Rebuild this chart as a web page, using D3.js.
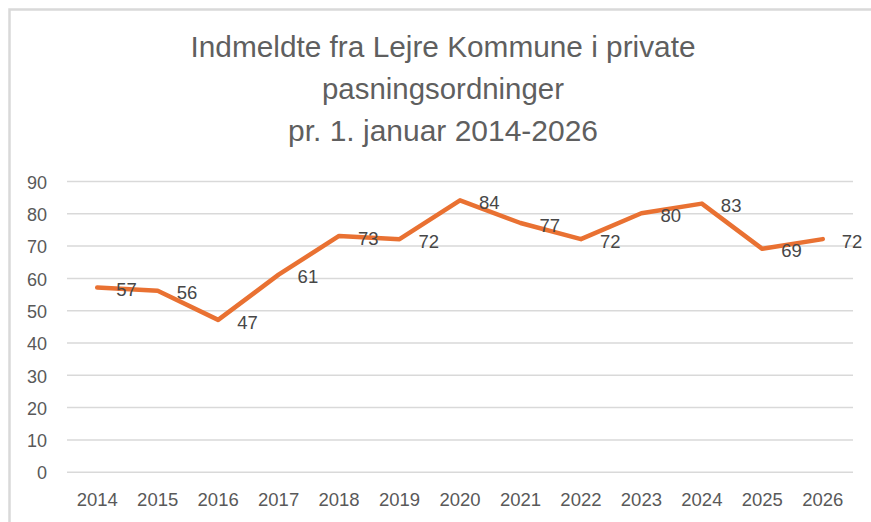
<!DOCTYPE html>
<html>
<head>
<meta charset="utf-8">
<script src="https://cdn.jsdelivr.net/npm/d3@7"></script>
<style>
  html, body { margin: 0; padding: 0; background: #fff; }
  svg { display: block; }
</style>
</head>
<body>
<svg id="chart" width="871" height="522"></svg>
<script>
const titleLines = ["Indmeldte fra Lejre Kommune i private", "pasningsordninger", "pr. 1. januar 2014-2026"];
const years = ["2014","2015","2016","2017","2018","2019","2020","2021","2022","2023","2024","2025","2026"];
const values = [57, 56, 47, 61, 73, 72, 84, 77, 72, 80, 83, 69, 72];
const yTicks = [0, 10, 20, 30, 40, 50, 60, 70, 80, 90];

const svg = d3.select("#chart");
const W = 871, H = 522;
const plot = { left: 67, right: 853, top: 181, bottom: 471.7 };

svg.append("rect").attr("width", W).attr("height", H).attr("fill", "#fff");

// outer border (only top and left visible)
svg.append("path")
  .attr("d", `M9.5,${H} L9.5,9.5 L${W},9.5`)
  .attr("fill", "none").attr("stroke", "#d9d9d9").attr("stroke-width", 2.5);

// title
const title = svg.append("g");
const titleBase = [57, 99, 141];
const titleLen = [505, 242, 310];
titleLines.forEach((t, i) => {
  title.append("text")
    .attr("x", 443).attr("y", titleBase[i])
    .attr("text-anchor", "middle")
    .attr("font-family", "'Liberation Sans Narrow', 'Liberation Sans', Arial, sans-serif")
    .attr("font-size", 29)
    .attr("fill", "#5f5f5f")
    .attr("textLength", titleLen[i])
    .attr("lengthAdjust", "spacingAndGlyphs")
    .text(t);
});

const x = d3.scaleBand().domain(years).range([plot.left, plot.right]);
const y = d3.scaleLinear().domain([0, 90]).range([plot.bottom, plot.top]);

// gridlines + y labels
const yAxis = d3.axisLeft(y).tickValues(yTicks).tickSize(-(plot.right - plot.left)).tickPadding(20);
const gy = svg.append("g").attr("transform", `translate(${plot.left},0)`).call(yAxis);
gy.select(".domain").remove();
gy.selectAll(".tick line").attr("stroke", "#d9d9d9").attr("stroke-width", 1.5);
gy.selectAll(".tick text")
  .attr("font-family", "'Liberation Sans', Arial, sans-serif")
  .attr("font-size", 18).attr("fill", "#595959").attr("dy", "0.4em");

// x labels
const xAxis = d3.axisBottom(x).tickSize(0).tickPadding(21);
const gx = svg.append("g").attr("transform", `translate(0,${plot.bottom})`).call(xAxis);
gx.select(".domain").remove();
gx.selectAll(".tick text")
  .attr("font-family", "'Liberation Sans', Arial, sans-serif")
  .attr("font-size", 18.5).attr("fill", "#595959");

// line
const cx = d => x(d) + x.bandwidth() / 2;
const line = d3.line().x((d, i) => cx(years[i])).y(d => y(d));
svg.append("path").datum(values)
  .attr("d", line)
  .attr("fill", "none")
  .attr("stroke", "#E97132")
  .attr("stroke-width", 4.5)
  .attr("stroke-linejoin", "round")
  .attr("stroke-linecap", "round");

// data labels
svg.append("g").selectAll("text").data(values).join("text")
  .attr("x", (d, i) => cx(years[i]) + 19)
  .attr("y", d => y(d) + 2)
  .attr("dy", "0.36em")
  .attr("font-family", "'Liberation Sans', Arial, sans-serif")
  .attr("font-size", 18.5)
  .attr("fill", "#474747")
  .text(d => d);
</script>
</body>
</html>
